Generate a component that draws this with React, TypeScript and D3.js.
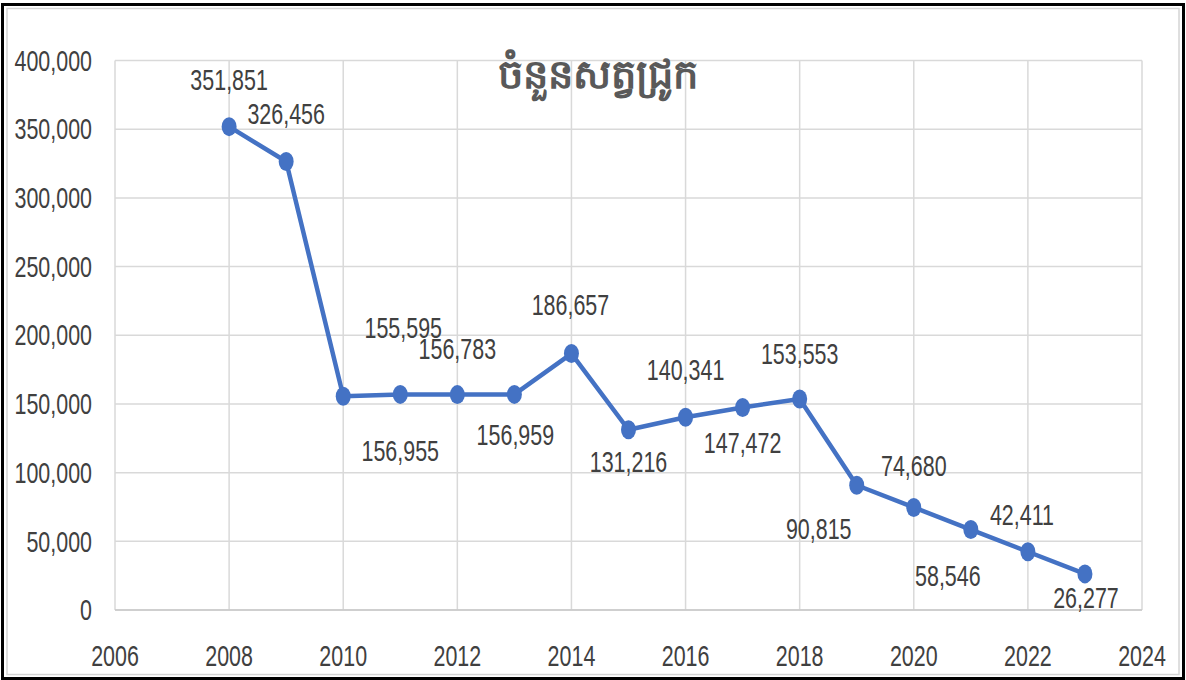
import React from "react";
import * as d3 from "d3";

const years = [2008, 2009, 2010, 2011, 2012, 2013, 2014, 2015, 2016, 2017, 2018, 2019, 2020, 2021, 2022, 2023];
const pigs = [351851, 326456, 155595, 156955, 156783, 156959, 186657, 131216, 140341, 147472, 153553, 90815, 74680, 58546, 42411, 26277];
const labelDx = [0, 0, 60, 0, 0, 1, -1, 0, 0, 0, 0, -38, 0, -23, -6, 1];
const labelDy = [-47, -48, -68, 56, -46, 40, -49, 32, -47, 35, -45, 44, -42, 46, -37, 24];
const yTicks = [0, 50000, 100000, 150000, 200000, 250000, 300000, 350000, 400000];
const xTicks = [2006, 2008, 2010, 2012, 2014, 2016, 2018, 2020, 2022, 2024];
const title = "ចំនួនសត្វជ្រូក";

const W = 1186, H = 680;
const plot = { left: 115, right: 1142, top: 60.5, bottom: 610 };
const FONT = "'Liberation Sans', Arial, sans-serif";
const SX = 0.74;
const TXT = "#404040";

function T({ x, y, anchor = "middle", size = 29, children }: any) {
  return (
    <g transform={`translate(${x},${y}) scale(${SX},1)`}>
      <text textAnchor={anchor} dominantBaseline="central" fontFamily={FONT} fontSize={size} fill={TXT}>
        {children}
      </text>
    </g>
  );
}

export default function App() {
  const x = d3.scaleLinear().domain([2006, 2024]).range([plot.left, plot.right]);
  const y = d3.scaleLinear().domain([0, 400000]).range([plot.bottom, plot.top]);
  const fmt = d3.format(",");
  const line = d3.line<number>().x((_, i) => x(years[i])).y((d) => y(d));

  return (
    <svg width={W} height={H} style={{ position: "absolute", left: 0, top: 0, background: "#fff" }}>
      <rect x={0} y={0} width={W} height={H} fill="#fff" />
      <rect x={2.5} y={4.5} width={1181} height={674} fill="none" stroke="#000" strokeWidth={3} />
      <rect x={7} y={8.5} width={1172} height={666} fill="none" stroke="#d4d4d4" strokeWidth={1.5} />
      {yTicks.map((t) => (
        <line key={"gy" + t} x1={plot.left} x2={plot.right} y1={y(t)} y2={y(t)} stroke="#d9d9d9" strokeWidth={1.5} />
      ))}
      {xTicks.map((t) => (
        <line key={"gx" + t} x1={x(t)} x2={x(t)} y1={plot.top} y2={plot.bottom} stroke="#d9d9d9" strokeWidth={1.5} />
      ))}
      <line x1={plot.left} x2={plot.right} y1={y(0)} y2={y(0)} stroke="#c8c8c8" strokeWidth={1.5} />
      {yTicks.map((t) => (
        <T key={"yl" + t} x={92} y={y(t)} anchor="end">{fmt(t)}</T>
      ))}
      {xTicks.map((t) => (
        <T key={"xl" + t} x={x(t)} y={656}>{String(t)}</T>
      ))}
      <text x={598} y={72} textAnchor="middle" dominantBaseline="central" fontFamily="'Noto Sans', sans-serif" fontWeight="bold" fontSize={40} fill="#595959">
        {title}
      </text>
      <path d={line(pigs) || ""} fill="none" stroke="#4472C4" strokeWidth={4.5} strokeLinejoin="round" />
      {pigs.map((v, i) => (
        <ellipse key={"m" + i} cx={x(years[i])} cy={y(v)} rx={7.5} ry={9.5} fill="#4472C4" />
      ))}
      {pigs.map((v, i) => (
        <T key={"dl" + i} x={x(years[i]) + labelDx[i]} y={y(v) + labelDy[i]}>{fmt(v)}</T>
      ))}
    </svg>
  );
}
